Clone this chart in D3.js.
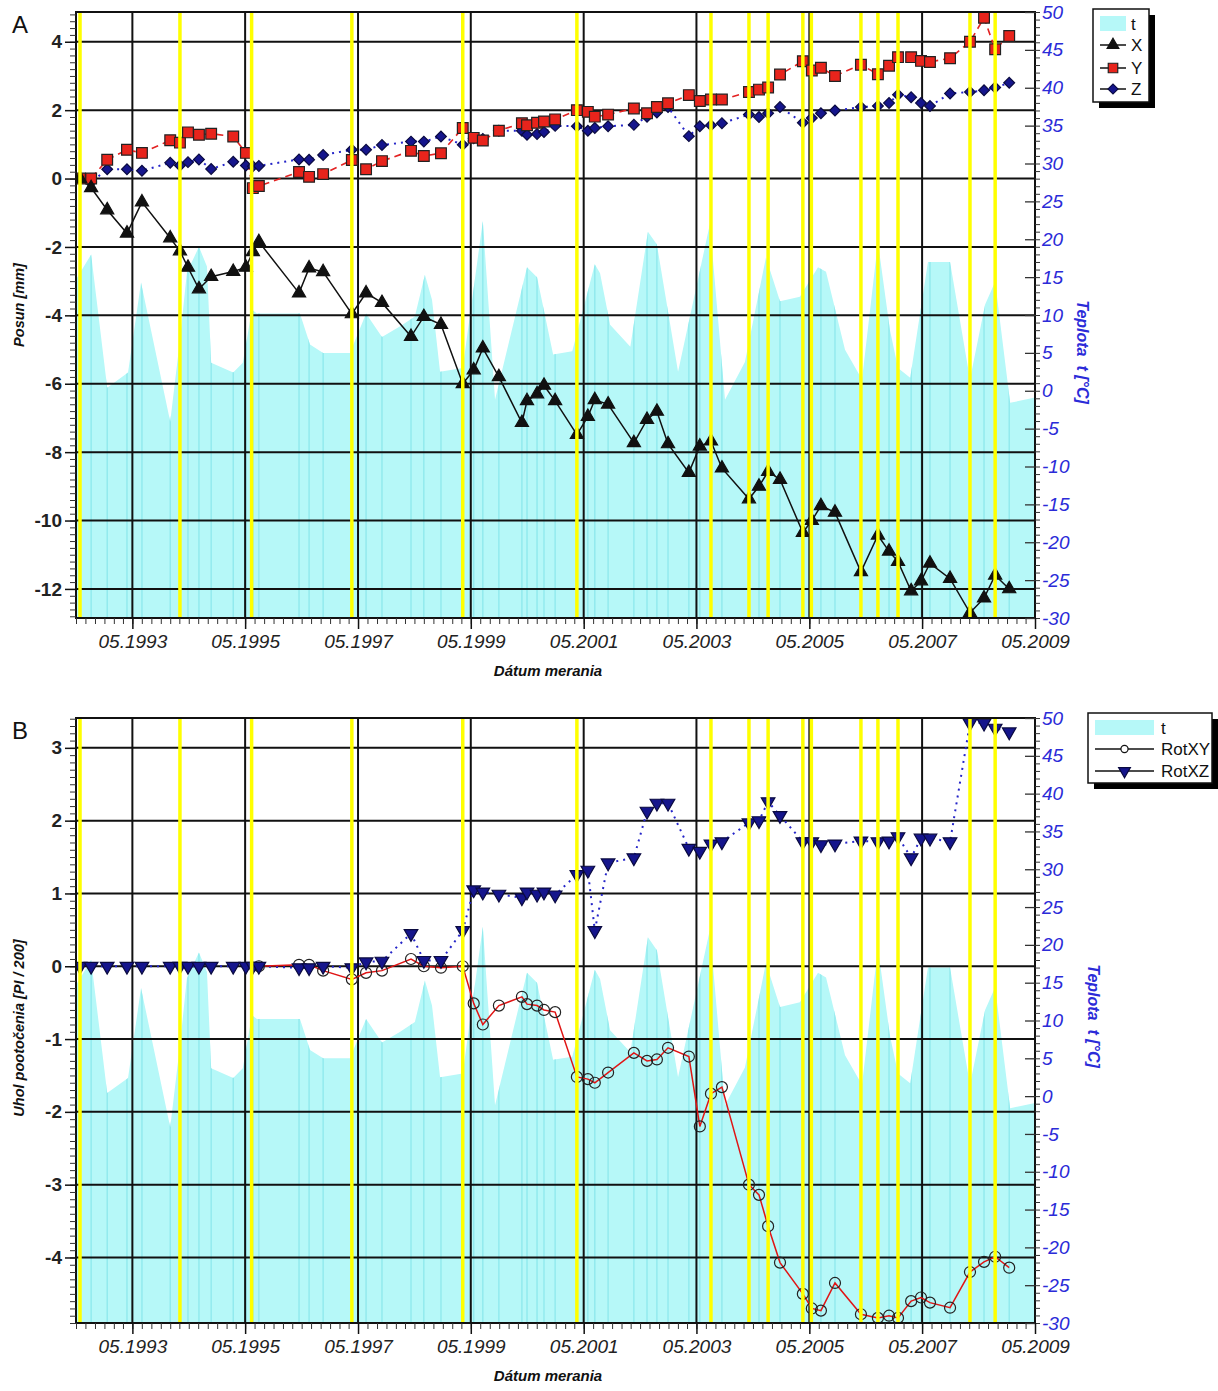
<!DOCTYPE html>
<html><head><meta charset="utf-8">
<script src="https://cdn.jsdelivr.net/npm/d3@7"></script>
<style>body{margin:0;background:#fff} svg{display:block} text{font-family:"Liberation Sans",Arial,sans-serif}</style>
</head><body><svg id="c" width="1218" height="1391"></svg>
<script>
// ---------- DATA ----------
const measureDates = ["1992-05-27","1992-08-07","1992-11-19","1993-03-27","1993-07-02","1994-01-01","1994-03-05","1994-04-26","1994-07-06","1994-09-23","1995-02-13","1995-05-06","1995-06-20","1995-07-29","1996-04-14","1996-06-18","1996-09-17","1997-03-22","1997-06-22","1997-10-03","1998-04-09","1998-07-01","1998-10-20","1999-03-10","1999-05-20","1999-07-18","1999-10-30","2000-03-27","2000-04-29","2000-07-03","2000-08-17","2000-10-28","2001-03-18","2001-05-28","2001-07-12","2001-10-06","2002-03-22","2002-06-15","2002-08-18","2002-10-29","2003-03-13","2003-05-23","2003-08-03","2003-10-13","2004-04-05","2004-06-09","2004-08-07","2004-10-23","2005-03-20","2005-05-17","2005-07-15","2005-10-14","2006-03-31","2006-07-19","2006-09-29","2006-11-26","2007-02-19","2007-04-24","2007-06-21","2007-10-29","2008-03-06","2008-06-05","2008-08-16","2008-11-15"];
const seriesX = [0,-0.27,-0.92,-1.6,-0.69,-1.74,-2.12,-2.6,-3.23,-2.87,-2.72,-2.6,-2.14,-1.85,-3.35,-2.62,-2.73,-3.96,-3.35,-3.63,-4.62,-4.04,-4.27,-6.0,-5.6,-4.96,-5.8,-7.14,-6.5,-6.3,-6.05,-6.5,-7.49,-6.96,-6.47,-6.6,-7.73,-7.05,-6.81,-7.76,-8.6,-7.83,-7.68,-8.47,-9.37,-9.0,-8.57,-8.8,-10.35,-10.0,-9.57,-9.76,-11.5,-10.43,-10.9,-11.2,-12.06,-11.77,-11.25,-11.7,-12.7,-12.27,-11.6,-12.0];
const seriesY = [0,0,0.55,0.84,0.75,1.12,1.05,1.35,1.28,1.31,1.23,0.75,-0.28,-0.22,0.19,0.05,0.13,0.54,0.27,0.51,0.81,0.66,0.74,1.48,1.19,1.11,1.4,1.62,1.56,1.63,1.67,1.73,2.0,1.95,1.81,1.87,2.05,1.91,2.09,2.2,2.44,2.27,2.31,2.31,2.53,2.6,2.66,3.04,3.43,3.16,3.24,3.0,3.33,3.05,3.3,3.55,3.55,3.44,3.41,3.52,4.0,4.7,3.78,4.17];
const seriesZ = [0,-0.1,0.27,0.27,0.23,0.46,0.38,0.48,0.56,0.28,0.49,0.38,0.36,0.37,0.56,0.55,0.69,0.84,0.84,0.98,1.08,1.08,1.23,0.99,1.18,1.16,1.4,1.4,1.28,1.3,1.36,1.54,1.53,1.4,1.48,1.53,1.57,1.81,1.93,2.09,1.24,1.53,1.56,1.62,1.87,1.8,1.91,2.09,1.63,1.77,1.91,1.99,2.09,2.12,2.21,2.45,2.38,2.21,2.12,2.49,2.53,2.58,2.66,2.8];
const seriesRotXY = [null,null,null,null,null,null,null,null,null,null,null,null,null,0,0.02,0.02,-0.06,-0.18,-0.09,-0.06,0.1,0.0,-0.02,0.0,-0.51,-0.8,-0.54,-0.42,-0.52,-0.54,-0.6,-0.63,-1.52,-1.55,-1.6,-1.46,-1.19,-1.3,-1.28,-1.12,-1.24,-2.2,-1.75,-1.66,-3.0,-3.14,-3.57,-4.07,-4.5,-4.7,-4.73,-4.35,-4.78,-4.83,-4.8,-4.83,-4.6,-4.55,-4.62,-4.69,-4.2,-4.06,-3.99,-4.14];
const seriesRotXZ = [0,0,0,0,0,0,0,0,0,0,0,0,0,0,-0.02,-0.02,0,-0.02,0.06,0.07,0.45,0.08,0.08,0.49,1.05,1.02,0.99,0.94,1.02,0.99,1.02,0.98,1.26,1.32,0.49,1.42,1.49,2.13,2.24,2.24,1.62,1.58,1.68,1.71,1.97,2.0,2.26,2.07,1.71,1.71,1.67,1.68,1.72,1.71,1.72,1.78,1.49,1.76,1.76,1.71,3.34,3.34,3.27,3.22];
const tempDates = ["1992-05-01","1992-08-07","1992-11-19","1993-04-03","1993-06-26","1994-01-01","1994-03-05","1994-04-19","1994-07-06","1994-08-27","1994-09-23","1995-02-13","1995-04-16","1995-06-14","1995-07-16","1996-04-20","1996-06-24","1996-09-17","1997-03-10","1997-06-22","1997-10-03","1998-01-29","1998-05-04","1998-07-08","1998-08-23","1998-10-14","1999-03-10","1999-07-18","1999-10-05","2000-04-29","2000-07-03","2000-10-15","2001-02-16","2001-07-12","2001-08-15","2001-10-19","2002-02-27","2002-06-21","2002-08-18","2003-01-02","2003-07-27","2003-11-02","2004-03-10","2004-07-24","2004-10-23","2005-03-01","2005-06-26","2005-08-17","2005-12-18","2006-04-07","2006-07-19","2006-10-05","2006-11-26","2007-02-13","2007-06-08","2007-10-29","2008-03-06","2008-06-12","2008-08-16","2008-11-21","2009-05-01"];
const tempValues = [14.7,18.0,0.4,2.4,14.3,-4.1,6.7,15.6,19.0,16.4,3.7,2.4,3.7,10.7,10.2,10.2,6.1,5.0,5.0,10.2,7.1,8.5,9.8,15.3,12.0,2.5,3.0,22.4,-1.2,16.3,15.0,4.8,5.2,16.7,15.5,8.7,5.8,21.0,19.3,2.5,22.0,-1.2,3.8,17.6,11.8,12.4,16.3,15.7,5.4,1.5,19.6,8.0,3.0,1.7,17.0,17.0,1.5,11.4,14.4,-1.6,-0.9];
const yellowDates = ["1992-05-27","1994-03-05","1995-06-12","1997-03-22","1999-03-10","2001-03-18","2003-08-03","2004-04-05","2004-08-07","2005-03-20","2005-05-14","2006-03-31","2006-07-19","2006-11-26","2008-03-06","2008-08-16"];
const xTickLabels = ["05.1993","05.1995","05.1997","05.1999","05.2001","05.2003","05.2005","05.2007","05.2009"];
const tempTicks = [50,45,40,35,30,25,20,15,10,5,0,-5,-10,-15,-20,-25,-30];
const ticksA = [4,2,0,-2,-4,-6,-8,-10,-12];
const ticksB = [3,2,1,0,-1,-2,-3,-4];

// ---------- SETUP ----------
const parse = d3.timeParse("%Y-%m-%d");
const mDates = measureDates.map(parse);
const tData = tempDates.map((d,i)=>({date:parse(d), t:tempValues[i]}));
const yDates = yellowDates.map(parse);
const xTicks = xTickLabels.map(s=>new Date(+s.slice(3), +s.slice(0,2)-1, 1));
const L=76, R=1035;
const x = d3.scaleTime().domain([new Date(1992,4,1), new Date(2009,4,1)]).range([L,R]);
const svg = d3.select("#c");
const defs = svg.append("defs");
const BLUE="#2b2bd8", CYAN="#b6f8f8", CYANL="#8de8ec", YEL="#ffff00";
const FONT="Liberation Sans, Arial, sans-serif";
const fmt = d => String(d);

function panel(cfg){
  const {id, top, bottom, yDom, yTicks, minorStep} = cfg;
  const y = d3.scaleLinear().domain(yDom).range([bottom, top]);
  const yT = d3.scaleLinear().domain([-30,50]).range([bottom, top]);
  const g = svg.append("g");
  defs.append("clipPath").attr("id","clip"+id).append("rect").attr("x",L).attr("y",top).attr("width",R-L).attr("height",bottom-top);
  const area = d3.area().x(d=>x(d.date)).y0(bottom).y1(d=>yT(d.t));
  defs.append("clipPath").attr("id","aclip"+id).append("path").attr("d", area(tData));
  const pg = g.append("g").attr("clip-path","url(#clip"+id+")");
  pg.append("path").attr("d", area(tData)).attr("fill", CYAN);
  pg.append("g").attr("clip-path","url(#aclip"+id+")").selectAll("line").data(mDates).join("line")
    .attr("x1",d=>x(d)).attr("x2",d=>x(d)).attr("y1",top).attr("y2",bottom)
    .attr("stroke",CYANL).attr("stroke-width",1.3);
  pg.append("g").selectAll("line").data(yTicks).join("line")
    .attr("x1",L).attr("x2",R).attr("y1",d=>y(d)).attr("y2",d=>y(d)).attr("stroke","#111").attr("stroke-width",2);
  pg.append("g").selectAll("line").data(xTicks).join("line")
    .attr("x1",d=>x(d)).attr("x2",d=>x(d)).attr("y1",top).attr("y2",bottom).attr("stroke","#111").attr("stroke-width",2);
  cfg.draw(pg, y);
  pg.append("g").selectAll("line").data(yDates).join("line")
    .attr("x1",d=>x(d)).attr("x2",d=>x(d)).attr("y1",top).attr("y2",bottom).attr("stroke",YEL).attr("stroke-width",3.5);
  g.append("rect").attr("x",L).attr("y",top).attr("width",R-L).attr("height",bottom-top).attr("fill","none").attr("stroke","#111").attr("stroke-width",2);
  // left axis
  const minorVals = d3.range(Math.ceil(yDom[0]/minorStep), Math.floor(yDom[1]/minorStep)+1).map(k=>+(k*minorStep).toFixed(3));
  g.append("g").attr("transform",`translate(${L},0)`).call(d3.axisLeft(y).tickValues(minorVals).tickSize(6).tickFormat(""))
    .call(a=>{a.select(".domain").remove(); a.selectAll("line").attr("stroke","#333").attr("stroke-width",1);});
  g.append("g").attr("transform",`translate(${L},0)`).call(d3.axisLeft(y).tickValues(yTicks).tickSize(11).tickPadding(3).tickFormat(fmt))
    .call(a=>{a.select(".domain").remove(); a.selectAll("line").attr("stroke","#111").attr("stroke-width",1.5);
      a.selectAll("text").attr("font-size",19).attr("font-weight","bold").attr("fill","#222").attr("font-family",FONT);});
  // right axis
  g.append("g").attr("transform",`translate(${R},0)`).call(d3.axisRight(yT).tickValues(d3.range(-30,51,1)).tickSize(5).tickFormat(""))
    .call(a=>{a.select(".domain").remove(); a.selectAll("line").attr("stroke","#333").attr("stroke-width",1);});
  g.append("g").attr("transform",`translate(${R},0)`).call(d3.axisRight(yT).tickValues(tempTicks).tickSizeInner(-10).tickSizeOuter(0).tickPadding(7).tickFormat(fmt))
    .call(a=>{a.select(".domain").remove(); a.selectAll("line").attr("stroke","#333").attr("stroke-width",1.3);
      a.selectAll("text").attr("font-size",19).attr("font-style","italic").attr("fill",BLUE).attr("font-family",FONT);});
  // bottom axis
  const minorX = d3.timeMonth.every(2).range(new Date(1992,4,1), new Date(2009,4,2));
  g.append("g").attr("transform",`translate(0,${bottom})`).call(d3.axisBottom(x).tickValues(minorX).tickSize(6).tickFormat(""))
    .call(a=>{a.select(".domain").remove(); a.selectAll("line").attr("stroke","#333").attr("stroke-width",1);});
  g.append("g").attr("transform",`translate(0,${bottom})`).call(d3.axisBottom(x).tickValues(xTicks).tickSize(11).tickPadding(6).tickFormat((d,i)=>xTickLabels[i]))
    .call(a=>{a.select(".domain").remove(); a.selectAll("line").attr("stroke","#111").attr("stroke-width",1.5);
      a.selectAll("text").attr("font-size",19).attr("font-style","italic").attr("fill","#222").attr("font-family",FONT);});
  g.append("text").attr("x",548).attr("y",bottom+58).attr("text-anchor","middle").attr("font-size",15).attr("font-weight","bold").attr("font-style","italic").attr("fill","#111").text("Dátum merania");
  g.append("text").attr("transform",`translate(${cfg.ltx},${cfg.lty}) rotate(-90)`).attr("text-anchor","middle").attr("font-size",14.5).attr("font-weight","bold").attr("font-style","italic").attr("fill","#111").text(cfg.ltitle);
  g.append("text").attr("transform",`translate(${cfg.rtx},${cfg.rty}) rotate(90)`).attr("text-anchor","middle").attr("font-size",16).attr("font-weight","bold").attr("font-style","italic").attr("fill",BLUE).attr("xml:space","preserve").text("Teplota  t [°C]");
  g.append("text").attr("x",12).attr("y",top+21).attr("font-size",24).attr("fill","#111").text(id);
  return {y, yT, g};
}

function line(sel, vals, y, color, dash, width){
  const pts = mDates.map((d,i)=>({d, v:vals[i]}));
  sel.append("path").datum(pts).attr("d", d3.line().defined(p=>p.v!==null).x(p=>x(p.d)).y(p=>y(p.v)))
    .attr("fill","none").attr("stroke",color).attr("stroke-width",width||1.5).attr("stroke-dasharray",dash||null);
  return pts.filter(p=>p.v!==null);
}
function marks(sel, pts, y, type, size, fill, stroke, rot){
  sel.append("g").selectAll("path").data(pts).join("path")
    .attr("d", d3.symbol().type(type).size(size))
    .attr("transform", p=>`translate(${x(p.d)},${y(p.v)}) rotate(${rot||0})`)
    .attr("fill",fill).attr("stroke",stroke).attr("stroke-width",1.2);
}

panel({id:"A", top:12, bottom:618, yDom:[-12.85,4.87], yTicks:ticksA, minorStep:0.2,
  ltitle:"Posun [mm]", ltx:24, lty:305, rtx:1077, rty:352,
  draw:(sel,y)=>{
    const pz = line(sel, seriesZ, y, "#2424c8", "2,5", 2);
    const py = line(sel, seriesY, y, "#e32222", "7,5", 1.6);
    const px = line(sel, seriesX, y, "#111", null, 1.5);
    marks(sel, pz, y, d3.symbolSquare, 58, "#15158c", "#0a0a40", 45);
    marks(sel, py, y, d3.symbolSquare, 115, "#e8241c", "#222", 0);
    marks(sel, px, y, d3.symbolTriangle, 75, "#111", "#111", 0);
  }});
panel({id:"B", top:718, bottom:1323, yDom:[-4.9,3.41], yTicks:ticksB, minorStep:0.1,
  ltitle:"Uhol pootočenia [PI / 200]", ltx:24, lty:1028, rtx:1088, rty:1016,
  draw:(sel,y)=>{
    const pxz = line(sel, seriesRotXZ, y, "#2424c8", "2,5", 2);
    const pxy = line(sel, seriesRotXY, y, "#e01515", null, 1.5);
    marks(sel, pxy, y, d3.symbolCircle, 95, "none", "#222", 0);
    marks(sel, pxz, y, d3.symbolTriangle, 80, "#15158c", "#0a0a40", 180);
  }});

function legend(x0,y0,w,h,items,lineW,labX){
  const g = svg.append("g");
  g.append("rect").attr("x",x0+6).attr("y",y0+6).attr("width",w).attr("height",h).attr("fill","#000");
  g.append("rect").attr("x",x0).attr("y",y0).attr("width",w).attr("height",h).attr("fill","#fff").attr("stroke","#111").attr("stroke-width",1.5);
  items.forEach(it=>{
    const cy = y0+it.dy;
    if(it.kind==="area"){
      g.append("rect").attr("x",x0+7).attr("y",cy-8).attr("width",lineW).attr("height",15).attr("fill",CYAN);
    } else {
      g.append("line").attr("x1",x0+7).attr("x2",x0+7+lineW).attr("y1",cy).attr("y2",cy).attr("stroke","#111").attr("stroke-width",1.5);
      g.append("path").attr("d",d3.symbol().type(it.sym).size(it.size)).attr("transform",`translate(${x0+7+lineW/2},${cy}) rotate(${it.rot||0})`)
        .attr("fill",it.fill).attr("stroke",it.stroke).attr("stroke-width",1.2);
    }
    g.append("text").attr("x",labX).attr("y",cy+6).attr("font-size",17).attr("fill","#111").text(it.label);
  });
}
legend(1093,9,56,93,[
  {kind:"area",dy:15,label:"t"},
  {dy:36,label:"X",sym:d3.symbolTriangle,size:60,fill:"#111",stroke:"#111"},
  {dy:59,label:"Y",sym:d3.symbolSquare,size:90,fill:"#e8241c",stroke:"#222"},
  {dy:80,label:"Z",sym:d3.symbolSquare,size:50,fill:"#15158c",stroke:"#0a0a40",rot:45}
],26,1131);
legend(1088,713,124,70,[
  {kind:"area",dy:15,label:"t"},
  {dy:36,label:"RotXY",sym:d3.symbolCircle,size:40,fill:"#fff",stroke:"#111"},
  {dy:58,label:"RotXZ",sym:d3.symbolTriangle,size:60,fill:"#15158c",stroke:"#0a0a40",rot:180}
],59,1161);
</script></body></html>
